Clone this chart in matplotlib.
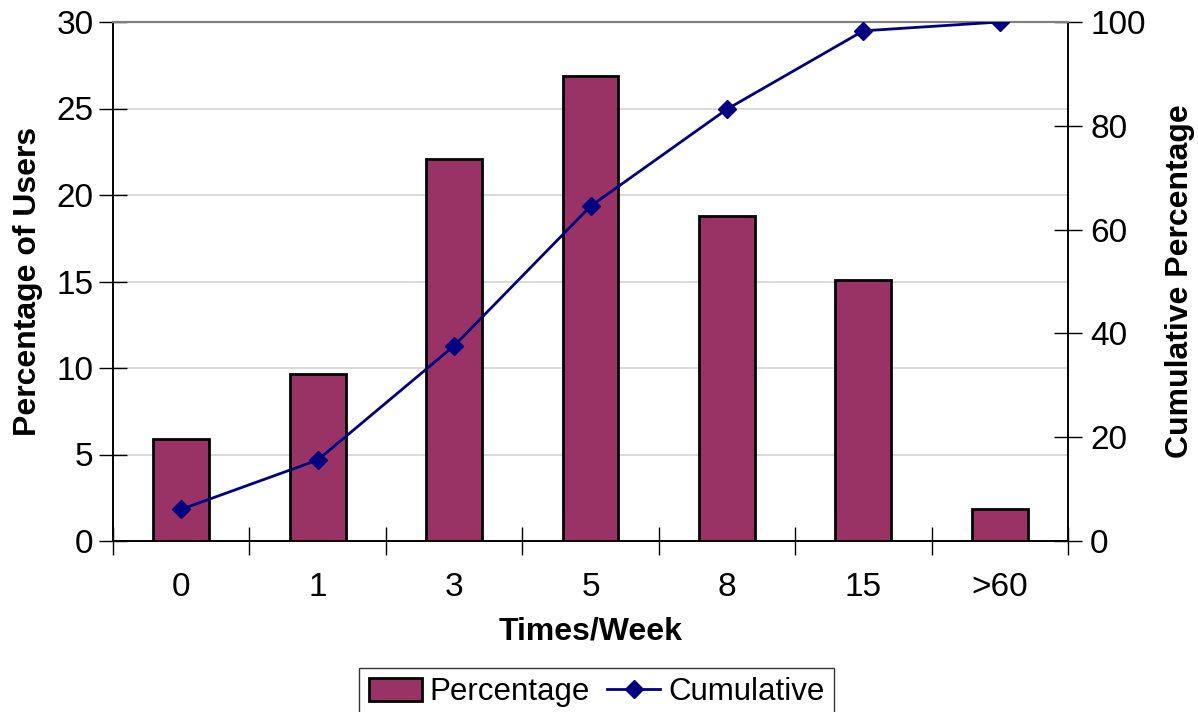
import numpy as np
import matplotlib
matplotlib.use("Agg")
import matplotlib.pyplot as plt
from matplotlib.lines import Line2D
from matplotlib.patches import Patch

plt.rcParams['font.family'] = ['Liberation Sans', 'DejaVu Sans']

# data
categories = ['0', '1', '3', '5', '8', '15', '>60']
percentage = [5.9, 9.65, 22.1, 26.9, 18.8, 15.1, 1.85]
cumulative = [6.1, 15.6, 37.6, 64.5, 83.2, 98.3, 100.0]

bar_color = '#993366'
line_color = '#000080'

fig = plt.figure(figsize=(11.98, 7.12), dpi=100)
ax = fig.add_axes([113 / 1198, 1 - 541 / 712, 955 / 1198, 519 / 712])
ax2 = ax.twinx()

x = np.arange(len(categories))
ax.bar(x, percentage, width=0.41, color=bar_color, edgecolor='black', linewidth=2, zorder=3)
ax2.plot(x, cumulative, color=line_color, linewidth=2, marker='D', markersize=9, zorder=4)

ax.set_xlim(-0.5, len(categories) - 0.5)
ax.set_ylim(0, 30)
ax2.set_ylim(0, 100)

# gridlines on left axis ticks
ax.set_yticks(np.arange(0, 31, 5))
ax.yaxis.grid(True, color='#d4d4d4', linewidth=1.2, zorder=0)
ax.set_axisbelow(True)
ax2.set_yticks(np.arange(0, 101, 20))

# category labels in the middle, ticks at boundaries
ax.set_xticks(x)
ax.set_xticklabels(categories)
ax.set_xticks(np.arange(-0.5, len(categories)), minor=True)
ax.tick_params(axis='x', which='major', length=0, pad=22, labelsize=24)
ax.tick_params(axis='x', which='minor', direction='inout', length=20, width=1)
ax.tick_params(axis='y', direction='inout', length=20, width=1, labelsize=24, pad=4)
ax2.tick_params(axis='y', direction='inout', length=20, width=1, labelsize=24, pad=6)

for a in (ax, ax2):
    a.spines['top'].set_color('#808080')
    a.spines['top'].set_linewidth(1.5)
    a.spines['left'].set_linewidth(1.2)
    a.spines['right'].set_linewidth(1.2)
    a.spines['bottom'].set_linewidth(1.2)

ax.set_xlabel('Times/Week', fontsize=23, fontweight='bold', labelpad=10)
ax.set_ylabel('Percentage of Users', fontsize=23, fontweight='bold', labelpad=10)
ax2.set_ylabel('Cumulative Percentage', fontsize=23, fontweight='bold', labelpad=14)

handles = [
    Patch(facecolor=bar_color, edgecolor='black', linewidth=2),
    Line2D([], [], color=line_color, linewidth=2, marker='D', markersize=9),
]
leg = fig.legend(handles, ['Percentage', 'Cumulative'], loc='upper center',
                 bbox_to_anchor=(0.498, 1 - 668 / 712), ncol=2, fontsize=22.5, frameon=True,
                 fancybox=False, edgecolor='black', handlelength=1.7, handleheight=0.8,
                 handletextpad=0.25, columnspacing=0.55, borderpad=0.3,
                 borderaxespad=0.0)
leg.get_frame().set_linewidth(1)

fig.savefig('out.png', dpi=100)
